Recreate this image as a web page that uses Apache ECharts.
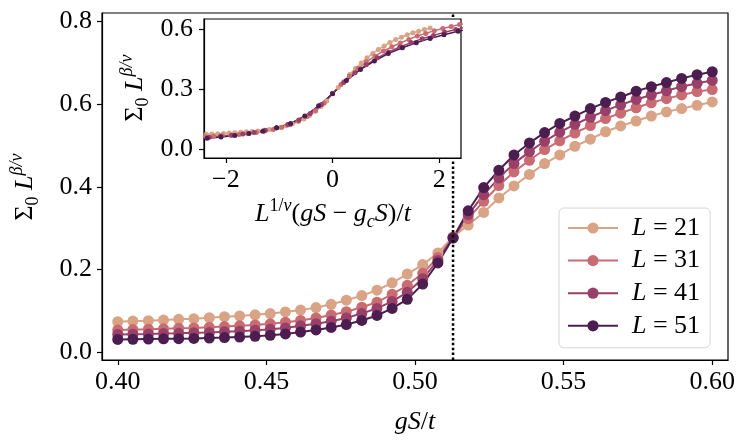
<!DOCTYPE html>
<html>
<head>
<meta charset="utf-8">
<script src="https://cdn.jsdelivr.net/npm/echarts@6/dist/echarts.min.js"></script>
<style>
html,body{margin:0;padding:0;background:#fff;}
#chart{width:748px;height:446px;}
</style>
</head>
<body>
<div id="chart"></div>
<script>
// ---- data ----
const GS = [0.4000,0.4051,0.4103,0.4154,0.4205,0.4256,0.4308,0.4359,0.4410,0.4462,
            0.4513,0.4564,0.4615,0.4667,0.4718,0.4769,0.4821,0.4872,0.4923,0.4974,
            0.5026,0.5077,0.5128,0.5179,0.5231,0.5282,0.5333,0.5385,0.5436,0.5487,
            0.5538,0.5590,0.5641,0.5692,0.5744,0.5795,0.5846,0.5897,0.5949,0.6000];
const L21 = [0.074,0.0756,0.0765,0.078,0.0797,0.0812,0.0835,0.086,0.088,0.0905,
             0.0935,0.0975,0.102,0.108,0.116,0.126,0.137,0.150,0.168,0.189,
             0.212,0.240,0.279,0.3075,0.338,0.373,0.402,0.430,0.456,0.477,
             0.498,0.515,0.533,0.547,0.559,0.571,0.581,0.589,0.597,0.605];
const L31 = [0.054,0.055,0.0557,0.0568,0.058,0.059,0.0605,0.0623,0.064,0.066,
             0.0688,0.0726,0.077,0.083,0.090,0.098,0.109,0.121,0.140,0.162,
             0.191,0.229,0.278,0.323,0.365,0.403,0.436,0.464,0.490,0.511,
             0.530,0.548,0.565,0.578,0.591,0.603,0.613,0.622,0.630,0.635];
const L41 = [0.043,0.0438,0.0445,0.0453,0.046,0.047,0.048,0.0495,0.051,0.053,
             0.0555,0.059,0.064,0.069,0.075,0.083,0.094,0.106,0.123,0.145,
             0.178,0.222,0.277,0.333,0.381,0.421,0.456,0.485,0.510,0.532,
             0.551,0.568,0.584,0.598,0.611,0.622,0.632,0.642,0.650,0.657];
const L51 = [0.031,0.0315,0.032,0.0325,0.033,0.0335,0.0345,0.0355,0.037,0.0385,
             0.041,0.0445,0.049,0.054,0.060,0.067,0.077,0.089,0.106,0.128,
             0.165,0.216,0.276,0.342,0.398,0.440,0.477,0.506,0.531,0.553,
             0.571,0.589,0.604,0.617,0.631,0.642,0.652,0.662,0.671,0.678];
const SIZES = [21, 31, 41, 51];
const SERIES_Y = [L21, L31, L41, L51];
const COLORS = ['#d9a385', '#c86b72', '#984067', '#4c1e4f'];
const GC = 0.5128;   // critical coupling (dotted line)
const NU = 1.0;      // exponent used in the inset rescaling
const X_TICKS = [0.40, 0.45, 0.50, 0.55, 0.60];
const Y_TICKS = [0.0, 0.2, 0.4, 0.6, 0.8];
const IN_X_TICKS = [-2, 0, 2];
const IN_Y_TICKS = [0.0, 0.3, 0.6];
const X_RANGE = [0.3947, 0.6053];
const Y_RANGE = [-0.0186, 0.82];
const IN_X_RANGE = [-2.41, 2.41];
const IN_Y_RANGE = [-0.045, 0.65];

// ---- styling ----
const FONT = 'Liberation Serif';
const FS = 26;
const rich = {
  r:   {fontFamily: FONT, fontSize: FS, lineHeight: 34, fill: '#000'},
  i:   {fontFamily: FONT, fontSize: FS, lineHeight: 34, fontStyle: 'italic', fill: '#000'},
  sup: {fontFamily: FONT, fontSize: 18, lineHeight: 20, fontStyle: 'italic', verticalAlign: 'top', fill: '#000'},
  supr:{fontFamily: FONT, fontSize: 18, lineHeight: 20, verticalAlign: 'top', fill: '#000'},
  sub: {fontFamily: FONT, fontSize: 18, lineHeight: 24, fontStyle: 'italic', verticalAlign: 'bottom', fill: '#000'},
  subr:{fontFamily: FONT, fontSize: 18, lineHeight: 24, verticalAlign: 'bottom', fill: '#000'}
};
function title(x, y, text, rot) {
  return {type: 'text', x: x, y: y, rotation: rot || 0, z: 50,
    style: {text: text, rich: rich, align: 'center', verticalAlign: 'middle',
            fill: '#000', font: FS + 'px ' + FONT}};
}
const axisLabelBase = {color: '#000', fontFamily: FONT, fontSize: FS};

const mainSeries = SERIES_Y.map((ys, i) => ({
  type: 'line', name: 'L = ' + SIZES[i], xAxisIndex: 0, yAxisIndex: 0,
  data: GS.map((g, k) => [g, ys[k]]),
  symbol: 'circle', symbolSize: 11, showSymbol: true,
  lineStyle: {width: 2, color: COLORS[i]}, itemStyle: {color: COLORS[i]},
  z: 2, animation: false
}));
const critLine = {
  type: 'line', name: 'gc', xAxisIndex: 0, yAxisIndex: 0,
  data: [[GC, Y_RANGE[0]], [GC, Y_RANGE[1]]],
  symbol: 'none', silent: true, z: 3, animation: false,
  lineStyle: {color: '#000', width: 2.5, type: [2.5, 2.4]}
};
const insetSeries = SERIES_Y.map((ys, i) => ({
  type: 'line', name: 'inset' + SIZES[i], xAxisIndex: 1, yAxisIndex: 1,
  data: GS.map((g, k) => [Math.pow(SIZES[i], 1 / NU) * (g - GC), ys[k]]),
  symbol: 'circle', symbolSize: 5, showSymbol: true, clip: true,
  lineStyle: {width: 1.5, color: COLORS[i]}, itemStyle: {color: COLORS[i]},
  z: 12, animation: false
}));

const chart = echarts.init(document.getElementById('chart'), null, {renderer: 'canvas'});
chart.setOption({
  backgroundColor: '#fff',
  animation: false,
  grid: [
    {left: 102, right: 20, top: 13, bottom: 86, show: true, borderColor: '#000',
     borderWidth: 1.2, backgroundColor: 'transparent', containLabel: false},
    {left: 204, right: 287, top: 19, bottom: 288, show: true, borderColor: '#000',
     borderWidth: 1.2, backgroundColor: '#fff', containLabel: false, z: 10}
  ],
  xAxis: [
    {type: 'value', gridIndex: 0, min: X_RANGE[0], max: X_RANGE[1],
     axisLine: {show: true, onZero: false, lineStyle: {color: '#000', width: 1.2}},
     axisTick: {show: true, inside: false, length: 5, lineStyle: {color: '#000', width: 1.2}, customValues: X_TICKS},
     axisLabel: Object.assign({margin: 9, customValues: X_TICKS, formatter: v => v.toFixed(2)}, axisLabelBase),
     splitLine: {show: false}},
    {type: 'value', gridIndex: 1, min: IN_X_RANGE[0], max: IN_X_RANGE[1], z: 11,
     axisLine: {show: true, onZero: false, lineStyle: {color: '#000', width: 1.2}},
     axisTick: {show: true, inside: false, length: 5, lineStyle: {color: '#000', width: 1.2}, customValues: IN_X_TICKS},
     axisLabel: Object.assign({margin: 9, customValues: IN_X_TICKS,
       formatter: v => (v < 0 ? '\u2212' : '') + Math.abs(v).toFixed(0)}, axisLabelBase),
     splitLine: {show: false}}
  ],
  yAxis: [
    {type: 'value', gridIndex: 0, min: Y_RANGE[0], max: Y_RANGE[1],
     axisLine: {show: true, onZero: false, lineStyle: {color: '#000', width: 1.2}},
     axisTick: {show: true, inside: false, length: 5, lineStyle: {color: '#000', width: 1.2}, customValues: Y_TICKS},
     axisLabel: Object.assign({margin: 10, customValues: Y_TICKS, formatter: v => v.toFixed(1)}, axisLabelBase),
     splitLine: {show: false}},
    {type: 'value', gridIndex: 1, min: IN_Y_RANGE[0], max: IN_Y_RANGE[1], z: 11,
     axisLine: {show: true, onZero: false, lineStyle: {color: '#000', width: 1.2}},
     axisTick: {show: true, inside: false, length: 5, lineStyle: {color: '#000', width: 1.2}, customValues: IN_Y_TICKS},
     axisLabel: Object.assign({margin: 11, customValues: IN_Y_TICKS, formatter: v => v.toFixed(1)}, axisLabelBase),
     splitLine: {show: false}}
  ],
  legend: {
    show: true, orient: 'vertical', left: 559, top: 208,
    data: SIZES.map(s => 'L = ' + s),
    padding: [7, 10, 9, 8], itemWidth: 50, itemHeight: 14, itemGap: 6.6,
    backgroundColor: 'rgba(255,255,255,0.8)', borderColor: '#d6d6d6', borderWidth: 1, borderRadius: 5,
    formatter: name => '{i|L}{t| = ' + name.split('= ')[1] + '}',
    textStyle: {color: '#000', fontFamily: FONT, fontSize: FS, lineHeight: 26,
      rich: {i: {fontFamily: FONT, fontSize: FS, fontStyle: 'italic', color: '#000', padding: [0, 0, 0, 9]},
             t: {fontFamily: FONT, fontSize: FS, color: '#000'}}}
  },
  graphic: [
    title(415, 422, '{i|gS}{r|/}{i|t}'),
    title(25, 187, '{r|\u03A3}{subr|0}{r| }{i|L}{sup|\u03B2/\u03BD}', Math.PI / 2),
    title(333, 214, '{i|L}{supr|1/}{sup|\u03BD}{r|(}{i|gS}{r| \u2212 }{i|g}{sub|c}{i|S}{r|)/}{i|t}'),
    title(135, 88, '{r|\u03A3}{subr|0}{r| }{i|L}{sup|\u03B2/\u03BD}', Math.PI / 2)
  ],
  series: mainSeries.concat([critLine], insetSeries)
});
</script>
</body>
</html>
